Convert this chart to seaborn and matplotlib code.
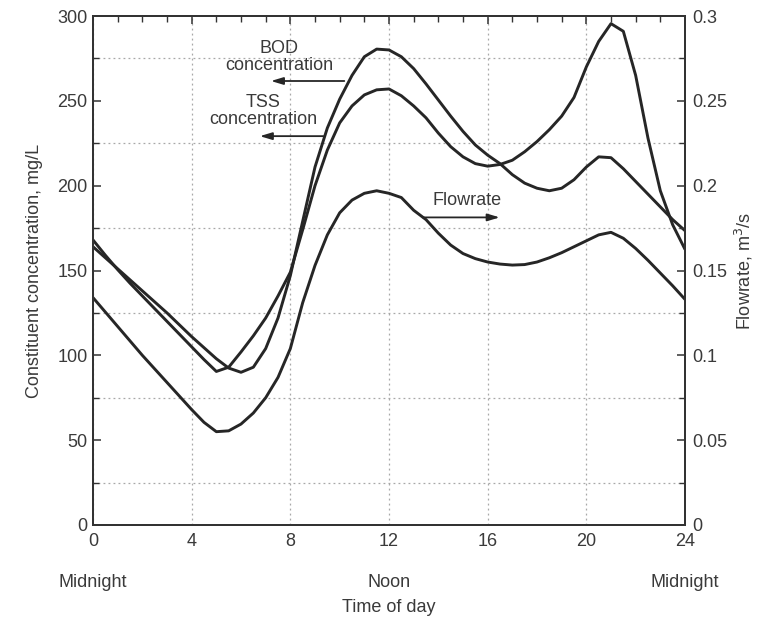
import matplotlib
matplotlib.use("Agg")
import matplotlib.pyplot as plt
import seaborn as sns
import pandas as pd

hours = [0, 0.5, 1, 1.5, 2, 2.5, 3, 3.5, 4, 4.5, 5, 5.5, 6, 6.5, 7, 7.5, 8, 8.5,
         9, 9.5, 10, 10.5, 11, 11.5, 12, 12.5, 13, 13.5, 14, 14.5, 15, 15.5, 16,
         16.5, 17, 17.5, 18, 18.5, 19, 19.5, 20, 20.5, 21, 21.5, 22, 22.5, 23,
         23.5, 24]

bod = [164, 157.5, 151, 144.5, 138, 131.5, 125, 118, 111, 104.5, 98, 92.5, 90,
       93, 104, 122, 147, 179, 211, 234, 251, 265, 276, 280.5, 280, 276, 269,
       260, 250.5, 241, 232, 224, 218, 213, 206.5, 201.5, 198.5, 197, 198.5,
       203.5, 211, 217, 216.5, 210, 202.5, 195, 187.5, 180, 173.5]

tss = [168, 159, 150.5, 142.5, 135, 127.5, 120, 112.5, 105, 97.5, 90.5, 93, 102,
       111.5, 122, 135, 149, 174, 200, 221, 237, 247, 253.5, 256.5, 257, 253,
       247, 240, 231, 223, 217, 213, 211.5, 212.5, 215, 220, 226, 233, 241, 252,
       270, 285, 295.5, 291, 265, 228, 197, 177, 162.5]

flow = [0.134, 0.1255, 0.117, 0.1085, 0.100, 0.092, 0.084, 0.076, 0.068, 0.0605,
        0.0550, 0.0555, 0.0595, 0.066, 0.075, 0.087, 0.104, 0.131, 0.153, 0.171,
        0.184, 0.1915, 0.1955, 0.197, 0.1955, 0.193, 0.1855, 0.180, 0.172, 0.165,
        0.160, 0.157, 0.155, 0.1538, 0.1532, 0.1535, 0.155, 0.1575, 0.1605,
        0.164, 0.1675, 0.171, 0.1725, 0.169, 0.163, 0.156, 0.1485, 0.141, 0.133]

x_ticks = [0, 4, 8, 12, 16, 20, 24]
x_ticklabels = ["0", "4", "8", "12", "16", "20", "24"]
y_ticks = [0, 50, 100, 150, 200, 250, 300]
y2_ticks = [0, 0.05, 0.1, 0.15, 0.2, 0.25, 0.3]
y2_ticklabels = ["0", "0.05", "0.1", "0.15", "0.2", "0.25", "0.3"]
time_words = [(0, "Midnight"), (12, "Noon"), (24, "Midnight")]

sns.set_theme(style="white")
plt.rcParams["font.family"] = ["Liberation Sans", "DejaVu Sans"]

LINE = "#262626"
TXT = "#3a3a3a"
FS = 13

df = pd.DataFrame({"hour": hours, "BOD": bod, "TSS": tss, "flow": flow})

fig = plt.figure(figsize=(7.6, 6.21), dpi=100)
ax = fig.add_axes([0.1224, 0.1546, 0.7789, 0.8196])
ax2 = ax.twinx()

for col, target in (("BOD", ax), ("TSS", ax), ("flow", ax2)):
    sns.lineplot(data=df, x="hour", y=col, ax=target, color=LINE, lw=2.1,
                 sort=False, estimator=None)
    for ln in target.lines:
        ln.set_solid_joinstyle("round")
        ln.set_solid_capstyle("round")

ax.set_xlim(0, 24)
ax.set_ylim(0, 300)
ax2.set_ylim(0, 0.3)

ax.set_xticks(x_ticks)
ax.set_xticklabels(x_ticklabels)
ax.set_xticks(list(range(0, 25)), minor=True)
ax.set_yticks(y_ticks)
ax.set_yticks(list(range(0, 301, 25)), minor=True)
ax2.set_yticks(y2_ticks)
ax2.set_yticklabels(y2_ticklabels)
ax2.set_yticks([v / 1000 for v in range(0, 301, 25)], minor=True)

ax.grid(True, which="major", axis="x", color="#a8a8a8", lw=0.9, ls=(0, (1.5, 2.5)))
ax.grid(True, which="minor", axis="y", color="#a8a8a8", lw=0.9, ls=(0, (1.5, 2.5)))
ax2.grid(False)

for a in (ax, ax2):
    for s in a.spines.values():
        s.set_color("#333333")
        s.set_linewidth(1.4)
    a.tick_params(which="both", direction="in", colors="#333333",
                  labelcolor=TXT, labelsize=FS)
    a.tick_params(which="major", length=6, width=1.1)
    a.tick_params(which="minor", length=4, width=1.0)

ax.tick_params(axis="x", which="both", top=True, pad=6)
ax.tick_params(axis="y", which="both", left=True, right=False, pad=4)
ax2.tick_params(axis="y", which="both", right=True, pad=5)

ax.set_xlabel("")
ax.set_ylabel("Constituent concentration, mg/L", fontsize=FS, color=TXT, labelpad=10)
ax2.set_ylabel("Flowrate, m$^3$/s", fontsize=FS, color=TXT, labelpad=4)

for hx, word in time_words:
    ax.text(hx, -0.113, word, transform=ax.get_xaxis_transform(),
            ha="center", va="center", fontsize=FS, color=TXT)
ax.text(12, -0.163, "Time of day", transform=ax.get_xaxis_transform(),
        ha="center", va="center", fontsize=FS, color=TXT)

# annotations
ax.text(7.55, 276, "BOD\nconcentration", ha="center", va="center",
        fontsize=FS, color=TXT, linespacing=1.0)
ax.annotate("", xy=(7.1, 261.7), xytext=(10.3, 261.7),
            arrowprops=dict(arrowstyle="-|>,head_length=0.6,head_width=0.18",
                            color=LINE, lw=1.3))
ax.text(6.9, 244, "TSS\nconcentration", ha="center", va="center",
        fontsize=FS, color=TXT, linespacing=1.0)
ax.annotate("", xy=(6.65, 229.2), xytext=(9.45, 229.2),
            arrowprops=dict(arrowstyle="-|>,head_length=0.6,head_width=0.18",
                            color=LINE, lw=1.3))
ax.text(15.15, 191, "Flowrate", ha="center", va="center", fontsize=FS, color=TXT)
ax.annotate("", xy=(16.6, 181.3), xytext=(13.25, 181.3),
            arrowprops=dict(arrowstyle="-|>,head_length=0.6,head_width=0.18",
                            color=LINE, lw=1.3))

fig.savefig("out.png", dpi=100)
